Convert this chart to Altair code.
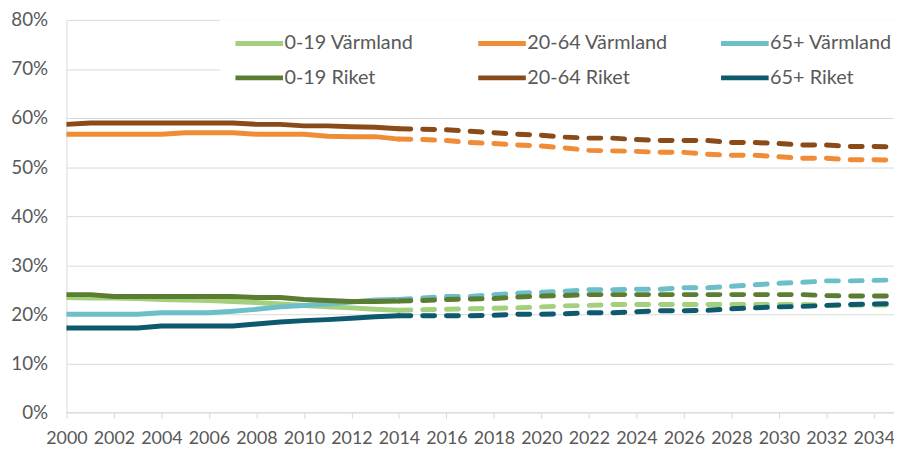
import altair as alt
import pandas as pd

series = ["0-19 Värmland", "20-64 Värmland", "65+ Värmland",
          "0-19 Riket", "20-64 Riket", "65+ Riket"]
colors = ["#a4d07e", "#f08c36", "#6cbec8", "#5a7d32", "#8a4b18", "#0d5a6f"]
# legend is filled column by column: 0-19 pair, 20-64 pair, 65+ pair
legend_order = ["0-19 Värmland", "0-19 Riket", "20-64 Värmland",
                "20-64 Riket", "65+ Värmland", "65+ Riket"]
legend_colors = [colors[series.index(s)] for s in legend_order]

hist_years = list(range(2000, 2015))
proj_years = list(range(2014, 2036))
x_ticks = list(range(2000, 2035, 2))
y_ticks = [0, 10, 20, 30, 40, 50, 60, 70, 80]

# historic values, percent of population (2000-2014)
hist_019_varm = [23.4, 23.3, 23.3, 23.2, 23.0, 22.9, 22.8, 22.6, 22.4, 22.1, 21.8, 21.5, 21.3, 21.0, 20.8]
hist_2064_varm = [56.7, 56.7, 56.7, 56.7, 56.7, 57.0, 57.0, 57.0, 56.7, 56.7, 56.7, 56.3, 56.2, 56.2, 55.7]
hist_65_varm = [20.0, 20.0, 20.0, 20.0, 20.3, 20.3, 20.3, 20.6, 21.0, 21.5, 21.8, 22.1, 22.5, 22.9, 23.0]
hist_019_riket = [24.0, 24.0, 23.6, 23.6, 23.6, 23.6, 23.6, 23.6, 23.4, 23.4, 23.0, 22.8, 22.6, 22.6, 22.7]
hist_2064_riket = [58.7, 59.0, 59.0, 59.0, 59.0, 59.0, 59.0, 59.0, 58.7, 58.7, 58.4, 58.4, 58.2, 58.1, 57.8]
hist_65_riket = [17.2, 17.2, 17.2, 17.2, 17.6, 17.6, 17.6, 17.6, 18.0, 18.4, 18.7, 18.9, 19.2, 19.5, 19.7]

# projections (2014-2035)
proj_019_varm = [20.8, 20.9, 21.0, 21.1, 21.2, 21.3, 21.5, 21.7, 21.8, 22.0, 22.0, 22.0, 22.0, 22.0, 22.0,
                 22.0, 22.0, 22.0, 21.8, 21.8, 21.9, 21.9]
proj_2064_varm = [55.7, 55.6, 55.4, 55.0, 54.8, 54.5, 54.3, 53.9, 53.4, 53.3, 53.2, 53.0, 53.0, 52.6, 52.4,
                  52.4, 52.1, 51.8, 51.8, 51.5, 51.5, 51.4]
proj_65_varm = [23.0, 23.3, 23.6, 23.6, 24.0, 24.3, 24.5, 24.7, 25.0, 25.0, 25.1, 25.1, 25.4, 25.4, 25.7,
                26.0, 26.3, 26.5, 26.8, 26.8, 26.9, 27.0]
proj_019_riket = [22.7, 22.8, 23.0, 23.1, 23.2, 23.5, 23.7, 23.8, 24.0, 24.0, 24.0, 24.0, 24.0, 24.0, 24.0,
                  24.0, 24.0, 24.0, 23.8, 23.7, 23.7, 23.7]
proj_2064_riket = [57.8, 57.7, 57.6, 57.3, 57.0, 56.7, 56.5, 56.1, 55.9, 55.9, 55.6, 55.4, 55.4, 55.4, 55.0,
                   55.0, 54.8, 54.5, 54.5, 54.2, 54.2, 54.1]
proj_65_riket = [19.7, 19.7, 19.7, 19.7, 19.8, 20.0, 20.0, 20.1, 20.3, 20.3, 20.5, 20.7, 20.7, 20.8, 21.1,
                 21.3, 21.5, 21.6, 21.8, 22.0, 22.1, 22.2]

hist = [hist_019_varm, hist_2064_varm, hist_65_varm, hist_019_riket, hist_2064_riket, hist_65_riket]
proj = [proj_019_varm, proj_2064_varm, proj_65_varm, proj_019_riket, proj_2064_riket, proj_65_riket]

rows = []
for i, name in enumerate(series):
    for yr, v in zip(hist_years, hist[i]):
        rows.append({"serie": name, "ar": yr, "andel": v, "typ": "hist"})
for i, name in enumerate(series):
    for yr, v in zip(proj_years, proj[i]):
        rows.append({"serie": name, "ar": yr, "andel": v, "typ": "proj"})
df = pd.DataFrame(rows)

FONT = "Lato"
TXT = "#595959"
GRID = "#d9d9d9"

x_enc = alt.X("ar:Q",
              scale=alt.Scale(domain=[2000, 2034.85], nice=False, zero=False),
              axis=alt.Axis(values=x_ticks, format="d", title=None, grid=False,
                            labelFont=FONT, labelFontSize=18, labelColor=TXT,
                            labelPadding=11, tickSize=6, tickColor=GRID,
                            domainColor=GRID, labelFlush=False, labelOverlap=False))
y_enc = alt.Y("andel:Q",
              scale=alt.Scale(domain=[0, 80], nice=False),
              axis=alt.Axis(values=y_ticks, labelExpr="datum.value + '%'", title=None,
                            grid=True, gridColor=GRID, ticks=False, tickSize=0,
                            labelFont=FONT, labelFontSize=19, labelColor=TXT,
                            labelPadding=19, domainColor=GRID))
color_enc = alt.Color("serie:N",
                      scale=alt.Scale(domain=legend_order, range=legend_colors),
                      legend=alt.Legend(title=None, orient="none", legendX=155, legendY=0,
                                        columns=3, symbolType="M-1,0H5", symbolSize=256,
                                        symbolStrokeWidth=5, labelFont=FONT, labelFontSize=20,
                                        labelColor=TXT, labelOffset=31, columnPadding=43,
                                        rowPadding=14, gridAlign="all", fillColor="white",
                                        padding=13))

base = alt.Chart(df).encode(x=x_enc, y=y_enc, color=color_enc, order="ar:Q")

solid = base.transform_filter(alt.datum.typ == "hist").mark_line(
    strokeWidth=5, strokeCap="round", strokeJoin="round", clip=True)
dashed = base.transform_filter(alt.datum.typ == "proj").mark_line(
    strokeWidth=5, strokeCap="round", strokeJoin="round", strokeDash=[12, 12], clip=True)

chart = alt.layer(solid, dashed).properties(
    width=835, height=396,
    autosize=alt.AutoSizeParams(type="none"),
    padding={"left": 59, "top": 10, "right": 0, "bottom": 37},
    background="white",
).configure_view(stroke=None)

chart.save("out.html", embed_options={"renderer": "svg", "actions": False})
